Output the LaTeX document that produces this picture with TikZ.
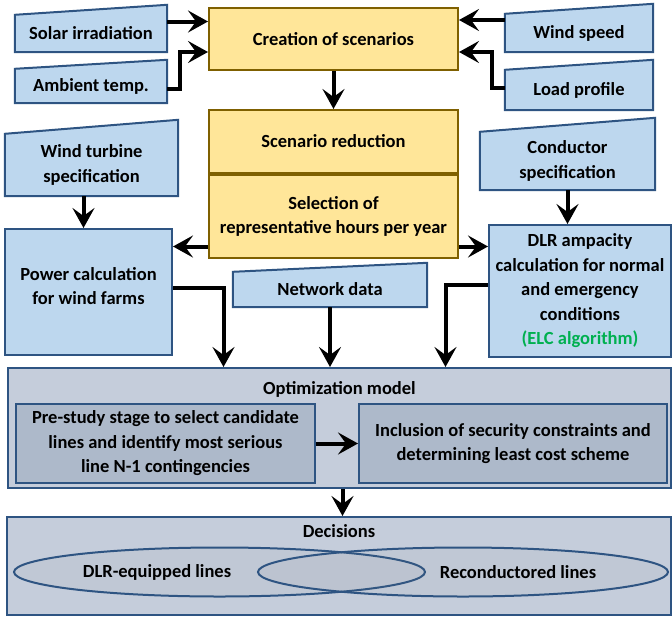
\documentclass[tikz,border=0pt]{standalone}
\usepackage{fontspec}
\setmainfont{Carlito}
\usetikzlibrary{arrows.meta,positioning,backgrounds,shapes.geometric}
\definecolor{inblue}{RGB}{189,215,238}
\definecolor{edgeblue}{RGB}{46,84,130}
\definecolor{scenyellow}{RGB}{255,230,153}
\definecolor{scenedge}{RGB}{127,96,0}
\definecolor{optgray}{RGB}{197,205,219}
\definecolor{stagegray}{RGB}{173,185,202}
\definecolor{elcgreen}{RGB}{0,176,80}
\begin{document}
\begin{tikzpicture}[x=1pt,y=-1pt,
  >={Stealth[length=20pt,width=22pt,inset=8pt]},
  every node/.style={font=\bfseries\fontsize{18.5}{24.5}\selectfont, align=center, inner sep=0pt},
  flow/.style={line width=4pt,->},
  scen/.style={draw=scenedge, fill=scenyellow, line width=2pt, minimum width=249pt},
  calc/.style={draw=edgeblue, fill=inblue, line width=2pt},
  stage/.style={draw=edgeblue, fill=stagegray, line width=2pt, minimum height=79pt},
  group/.style={draw=edgeblue, fill=optgray, line width=2pt}]
\useasboundingbox (0,0) rectangle (672,619);

% input data (drawn as manual-input shapes below)
\node[minimum width=152pt, minimum height=37pt] (solar) at (91,33.5) {Solar irradiation};
\node[minimum width=152pt, minimum height=34pt] (ambient) at (91,86) {Ambient temp.};
\node[minimum width=148pt, minimum height=38pt] (windsp) at (579,33) {Wind speed};
\node[minimum width=148pt, minimum height=40pt] (load) at (579,90) {Load profile};
\node[minimum width=173pt, minimum height=62pt] (turbine) at (91.5,165) {Wind turbine\\specification};
\node[minimum width=175pt, minimum height=58pt] (conductor) at (567.5,161) {Conductor\\specification};
\node[minimum width=194pt, minimum height=35pt] (network) at (330,289.5) {Network data};
\begin{scope}[on background layer]
\foreach \n/\d in {solar/10,ambient/9,windsp/10,load/10,turbine/14,conductor/14,network/9}
  \draw[calc] (\n.south west) -- (\n.south east) -- ([yshift=\d pt]\n.north east) -- (\n.north west) -- cycle;
\end{scope}

% scenario handling
\node[scen, minimum height=62pt] (creation) at (333.5,39) {Creation of scenarios};
\node[scen, minimum height=63pt] (reduction) at (333.5,141.5) {Scenario reduction};
\node[scen, minimum height=83pt, below=0pt of reduction] (selection) {Selection of\\representative hours per year};

% calculations
\node[calc, minimum width=167pt, minimum height=126pt] (power) at (88.5,292) {Power calculation\\for wind farms\\[-12pt]};
\node[calc, minimum width=182pt, minimum height=132pt] (dlr) at (580,291) {DLR ampacity\\calculation for normal\\and emergency\\conditions\\\textcolor{elcgreen}{(ELC algorithm)}};

% optimization model
\node[group, minimum width=663pt, minimum height=120pt] (opt) at (339.5,428) {};
\node (optlabel) at ([yshift=-22pt]opt.north) {Optimization model};
\node[stage, minimum width=299pt] (prestudy) at (165.5,443.5) {Pre-study stage to select candidate\\lines and identify most serious\\line N-1 contingencies};
\node[stage, minimum width=308pt] (inclusion) at (513,443.5) {Inclusion of security constraints and\\determining least cost scheme};

% decisions
\node[group, minimum width=664pt, minimum height=98pt] (decisions) at (339,566) {};
\node (declabel) at ([yshift=-15pt]decisions.north) {Decisions};
\node[ellipse, draw=edgeblue, line width=2pt, fill=gray, fill opacity=0.06, minimum width=411pt, minimum height=49pt] (dlrset) at (219.5,572) {};
\node[ellipse, draw=edgeblue, line width=2pt, fill=gray, fill opacity=0.06, minimum width=410pt, minimum height=49pt] (reconset) at (463,572) {};
\node (dlrtext) at (157,572) {DLR-equipped lines};
\node (recontext) at (518,572) {Reconductored lines};

% connectors
\draw[flow] ([yshift=12pt]solar.east) -- ([yshift=12pt]solar.east -| creation.west);
\draw[flow] ([yshift=-3pt]ambient.east) -- ++(13,0) |- ([yshift=-13pt]creation.west);
\draw[flow] ([yshift=13pt]windsp.west) -- ([yshift=13pt]windsp.west -| creation.east);
\draw[flow] ([yshift=2pt]load.west) -- ++(-13,0) |- ([yshift=-13pt]creation.east);
\draw[flow] (creation.south) -- (reduction.north);
\draw[flow] ([yshift=-30pt]selection.west) -- ([yshift=-30pt]selection.west -| power.east);
\draw[flow] ([yshift=-30pt]selection.east) -- ([yshift=-30pt]selection.east -| dlr.west);
\draw[flow] ([xshift=-8pt]turbine.south) -- ([xshift=-8pt]turbine.south |- power.north);
\draw[flow] (conductor.south) -- (conductor.south |- dlr.north);
\draw[flow] ([yshift=4pt]power.east) -| ([xshift=-116pt]opt.north);
\draw[flow] (network.south) -- (network.south |- opt.north);
\draw[flow] ([yshift=6pt]dlr.west) -| ([xshift=106pt]opt.north);
\draw[flow] (prestudy.east) -- (inclusion.west);
\draw[flow] ([xshift=3pt]opt.south) -- ([xshift=3pt]opt.south |- decisions.north);
\end{tikzpicture}
\end{document}
